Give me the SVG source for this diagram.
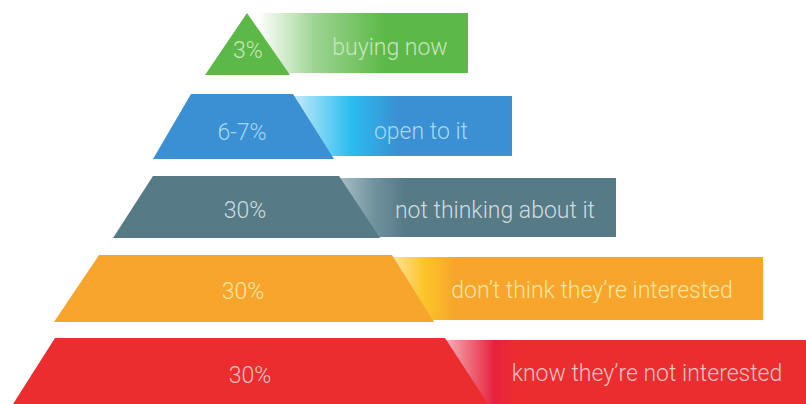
<svg xmlns="http://www.w3.org/2000/svg" width="806" height="404" viewBox="0 0 806 404">
  <defs>
    <linearGradient id="gGreen" gradientUnits="userSpaceOnUse" x1="258" y1="0" x2="385" y2="0">
      <stop offset="0" stop-color="#ffffff"/>
      <stop offset="0.45" stop-color="#9dd492"/>
      <stop offset="1" stop-color="#5cb947"/>
    </linearGradient>
    <linearGradient id="gBlue" gradientUnits="userSpaceOnUse" x1="293" y1="0" x2="398" y2="0">
      <stop offset="0" stop-color="#c6eaf8"/>
      <stop offset="0.55" stop-color="#2bbdef"/>
      <stop offset="1" stop-color="#3a90d3"/>
    </linearGradient>
    <linearGradient id="gSlate" gradientUnits="userSpaceOnUse" x1="340" y1="0" x2="405" y2="0">
      <stop offset="0" stop-color="#a9bec5"/>
      <stop offset="0.5" stop-color="#7294a0"/>
      <stop offset="1" stop-color="#567a86"/>
    </linearGradient>
    <linearGradient id="gOrange" gradientUnits="userSpaceOnUse" x1="393" y1="0" x2="455" y2="0">
      <stop offset="0" stop-color="#fde39c"/>
      <stop offset="0.5" stop-color="#fdc52a"/>
      <stop offset="1" stop-color="#f7a52c"/>
    </linearGradient>
    <linearGradient id="gRed" gradientUnits="userSpaceOnUse" x1="446" y1="0" x2="515" y2="0">
      <stop offset="0" stop-color="#f4b0b6"/>
      <stop offset="0.7" stop-color="#e8213f"/>
      <stop offset="1" stop-color="#ec2d2f"/>
    </linearGradient>
  </defs>
  <style>
    text { font-family: Roboto, "Liberation Sans", Arial, sans-serif; font-weight: 300; font-size: 23px; text-anchor: middle; }
    .green { fill: #5cb947; }
    .blue { fill: #3a90d3; }
    .slate { fill: #567a86; }
    .orange { fill: #f7a52c; }
    .red { fill: #ec2d2f; }
    .tg { fill: #c8e6bf; }
    .tb { fill: #a8d8f2; }
    .ts { fill: #d0dcdf; }
    .to { fill: #fde6a0; }
    .tr { fill: #f6c2c4; }
  </style>
  <rect width="806" height="404" fill="#ffffff"/>

  <g id="tier-buying-now">
    <rect x="250" y="13" width="218" height="60" fill="url(#gGreen)"/>
    <polygon class="green" points="247,13 290,75 205,75"/>
    <text class="tg" x="248" y="58">3%</text>
    <text class="tg" x="390" y="55">buying now</text>
  </g>

  <g id="tier-open-to-it">
    <rect x="290" y="96" width="222" height="60" fill="url(#gBlue)"/>
    <polygon class="blue" points="191,94 293,94 334,159 153,159"/>
    <text class="tb" x="242" y="140">6-7%</text>
    <text class="tb" x="421" y="139">open to it</text>
  </g>

  <g id="tier-not-thinking">
    <rect x="335" y="178" width="281" height="59" fill="url(#gSlate)"/>
    <polygon class="slate" points="153,176 339,176 380,238 113,238"/>
    <text class="ts" x="245" y="218">30%</text>
    <text class="ts" x="495" y="218">not thinking about it</text>
  </g>

  <g id="tier-dont-think">
    <rect x="390" y="257" width="373" height="63" fill="url(#gOrange)"/>
    <polygon class="orange" points="99,255 392,255 434,322 54,322"/>
    <text class="to" x="243" y="299">30%</text>
    <text class="to" x="592" y="298">don’t think they’re interested</text>
  </g>

  <g id="tier-know-not">
    <rect x="443" y="340" width="363" height="64" fill="url(#gRed)"/>
    <polygon class="red" points="55,338 445,338 488,404 13,404"/>
    <text class="tr" x="250" y="383">30%</text>
    <text class="tr" x="647" y="381">know they’re not interested</text>
  </g>
</svg>
